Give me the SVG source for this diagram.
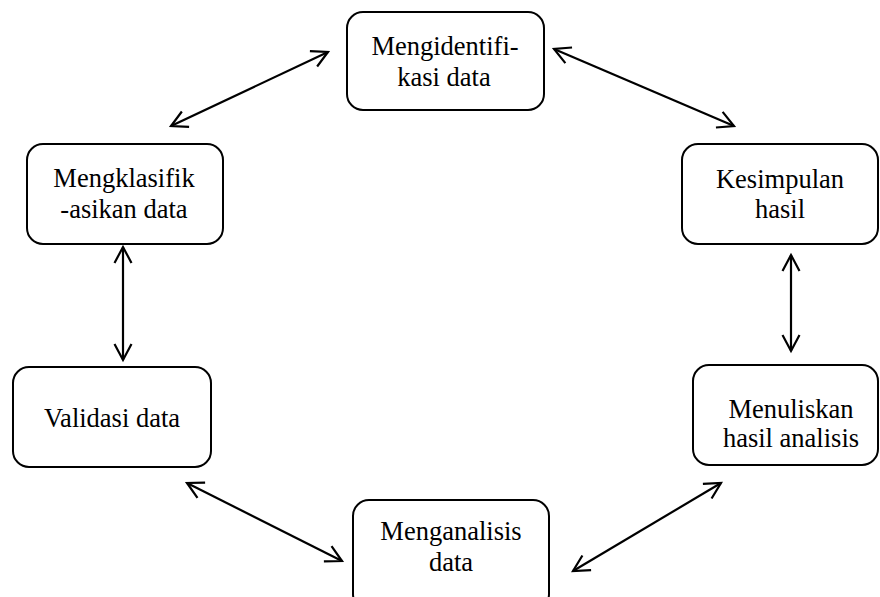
<svg xmlns="http://www.w3.org/2000/svg" width="880" height="597" viewBox="0 0 880 597">
<style>
.box{fill:#fff;stroke:#000;stroke-width:2}
.lbl{font-family:"Liberation Serif","Times New Roman",serif;font-size:26.5px;fill:#000;text-anchor:middle}
.con{stroke:#000;stroke-width:2.2;fill:none;marker-start:url(#ah);marker-end:url(#ah)}
</style>
<defs>
<marker id="ah" viewBox="-20 -12 24 24" refX="0" refY="0" markerWidth="24" markerHeight="24" markerUnits="userSpaceOnUse" orient="auto-start-reverse">
<path d="M-16,-8.5 L0,0 L-16,8.5" fill="none" stroke="#000" stroke-width="2.2"/>
</marker>
</defs>
<rect width="880" height="597" fill="#fff"/>
<g id="connectors">
<line class="con" x1="171" y1="126" x2="328" y2="52"/>
<line class="con" x1="554" y1="49" x2="734" y2="126"/>
<line class="con" x1="123" y1="247" x2="123" y2="360"/>
<line class="con" x1="791" y1="255" x2="791" y2="351"/>
<line class="con" x1="187" y1="483" x2="342" y2="561"/>
<line class="con" x1="721" y1="483" x2="573" y2="571"/>
</g>
<g id="n-identifikasi">
<rect class="box" x="347" y="12" width="197" height="98" rx="16"/>
<text class="lbl" x="445" y="55">Mengidentifi-</text>
<text class="lbl" x="444" y="86">kasi data</text>
</g>
<g id="n-klasifikasi">
<rect class="box" x="27" y="144" width="196" height="100" rx="16"/>
<text class="lbl" x="124" y="187">Mengklasifik</text>
<text class="lbl" x="124" y="218">-asikan data</text>
</g>
<g id="n-validasi">
<rect class="box" x="13" y="367" width="198" height="100" rx="16"/>
<text class="lbl" x="112" y="427">Validasi data</text>
</g>
<g id="n-kesimpulan">
<rect class="box" x="682" y="144" width="196" height="100" rx="16"/>
<text class="lbl" x="780" y="188">Kesimpulan</text>
<text class="lbl" x="780" y="218">hasil</text>
</g>
<g id="n-menuliskan">
<rect class="box" x="693" y="365" width="185" height="100" rx="16"/>
<text class="lbl" x="791" y="418">Menuliskan</text>
<text class="lbl" x="791" y="447">hasil analisis</text>
</g>
<g id="n-menganalisis">
<rect class="box" x="353" y="500" width="196" height="110" rx="16"/>
<text class="lbl" x="451" y="540">Menganalisis</text>
<text class="lbl" x="451" y="571">data</text>
</g>
</svg>
